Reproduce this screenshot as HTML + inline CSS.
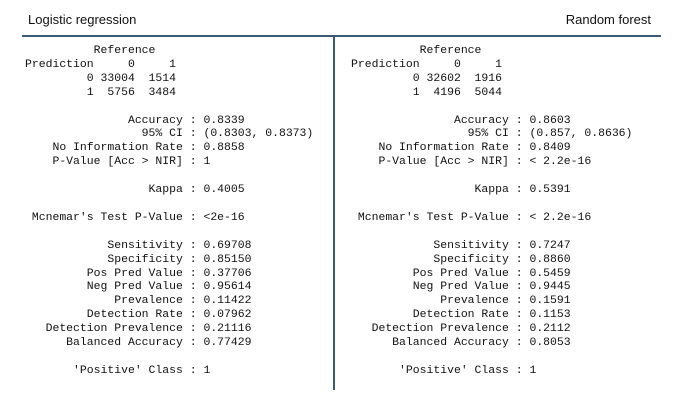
<!DOCTYPE html>
<html><head><meta charset="utf-8"><style>
body{margin:0;width:680px;height:402px;background:#fff;position:relative;overflow:hidden}
.t{position:absolute;top:12px;font:13px "Liberation Sans",sans-serif;color:#111}
pre{position:absolute;top:44px;margin:0;font:11.45px/13.9px "Liberation Mono",monospace;color:#111}
.h{position:absolute;left:22px;top:35px;width:639px;height:1.5px;background:#3d5a75}
.v{position:absolute;left:333px;top:35px;width:1.5px;height:355px;background:#3d5a75}
</style></head><body>
<div class="t" style="left:28px">Logistic regression</div>
<div class="t" style="right:29px">Random forest</div>
<div class="h"></div>
<div class="v"></div>
<pre style="left:25px">          Reference
Prediction     0     1
         0 33004  1514
         1  5756  3484

               Accuracy : 0.8339
                 95% CI : (0.8303, 0.8373)
    No Information Rate : 0.8858
    P-Value [Acc &gt; NIR] : 1

                  Kappa : 0.4005

 Mcnemar's Test P-Value : &lt;2e-16

            Sensitivity : 0.69708
            Specificity : 0.85150
         Pos Pred Value : 0.37706
         Neg Pred Value : 0.95614
             Prevalence : 0.11422
         Detection Rate : 0.07962
   Detection Prevalence : 0.21116
      Balanced Accuracy : 0.77429

       'Positive' Class : 1</pre>
<pre style="left:351px">          Reference
Prediction     0     1
         0 32602  1916
         1  4196  5044

               Accuracy : 0.8603
                 95% CI : (0.857, 0.8636)
    No Information Rate : 0.8409
    P-Value [Acc &gt; NIR] : &lt; 2.2e-16

                  Kappa : 0.5391

 Mcnemar's Test P-Value : &lt; 2.2e-16

            Sensitivity : 0.7247
            Specificity : 0.8860
         Pos Pred Value : 0.5459
         Neg Pred Value : 0.9445
             Prevalence : 0.1591
         Detection Rate : 0.1153
   Detection Prevalence : 0.2112
      Balanced Accuracy : 0.8053

       'Positive' Class : 1</pre>
</body></html>
